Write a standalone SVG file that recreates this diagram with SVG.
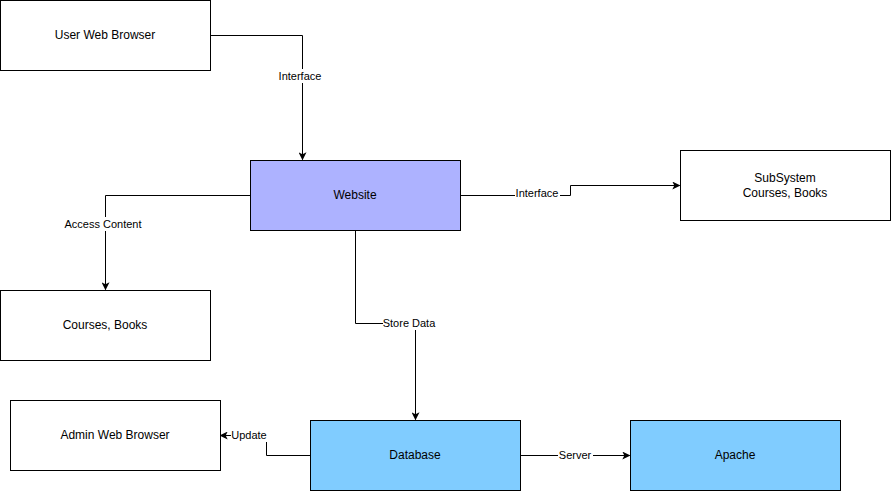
<svg xmlns="http://www.w3.org/2000/svg" width="891" height="491" viewBox="0 0 891 491">
  <style>
    .box { stroke: #000; stroke-width: 1; }
    .plain { fill: #fff; }
    .web { fill: #adb2ff; }
    .data { fill: #80ccff; }
    .node-text { font-family: "Liberation Sans", Arial, sans-serif; font-size: 12px; fill: #000; text-anchor: middle; dominant-baseline: central; }
    .edge { fill: none; stroke: #000; stroke-width: 1; marker-end: url(#arrow); }
    .edge-label { font-family: "Liberation Sans", Arial, sans-serif; font-size: 11px; fill: #000; text-anchor: middle; dominant-baseline: central; }
    .label-bg { fill: #fff; }
  </style>
  <defs>
    <marker id="arrow" viewBox="0 0 10 10" refX="9" refY="5" markerWidth="8" markerHeight="8" markerUnits="userSpaceOnUse" orient="auto">
      <path d="M0,0 L10,5 L0,10 L2.5,5 Z" fill="#000"/>
    </marker>
  </defs>
  <rect width="891" height="491" fill="#fff"/>

  <g id="connectors">
    <path class="edge" d="M210.5,35.5 H302.5 V159.5"/>
    <rect class="label-bg" x="277" y="69" width="47" height="14"/>
    <text class="edge-label" x="300" y="76">Interface</text>

    <path class="edge" d="M460.5,195.5 H570.5 V185.5 H679.5"/>
    <rect class="label-bg" x="515" y="186" width="45" height="14"/>
    <text class="edge-label" x="537" y="193">Interface</text>

    <path class="edge" d="M250.5,195.5 H105.5 V289.5"/>
    <rect class="label-bg" x="63" y="217" width="80" height="14"/>
    <text class="edge-label" x="103" y="224">Access Content</text>

    <path class="edge" d="M355.5,230.5 V323.5 H415.5 V419.5"/>
    <rect class="label-bg" x="383" y="316" width="54" height="14"/>
    <text class="edge-label" x="409" y="323">Store Data</text>

    <path class="edge" d="M310.5,455.5 H266.5 V435.5 H220.5"/>
    <rect class="label-bg" x="231" y="428" width="36" height="14"/>
    <text class="edge-label" x="249" y="435">Update</text>

    <path class="edge" d="M520.5,455.5 H629.5"/>
    <rect class="label-bg" x="558" y="448" width="35" height="14"/>
    <text class="edge-label" x="575" y="455">Server</text>
  </g>

  <g id="user-web-browser">
    <rect class="box plain" x="0.5" y="0.5" width="210" height="70"/>
    <text class="node-text" x="105" y="35">User Web Browser</text>
  </g>

  <g id="website">
    <rect class="box web" x="250.5" y="160.5" width="210" height="70"/>
    <text class="node-text" x="355" y="195">Website</text>
  </g>

  <g id="subsystem">
    <rect class="box plain" x="680.5" y="150.5" width="210" height="70"/>
    <text class="node-text" x="785" y="178">SubSystem</text>
    <text class="node-text" x="785" y="193">Courses, Books</text>
  </g>

  <g id="courses-books">
    <rect class="box plain" x="0.5" y="290.5" width="210" height="70"/>
    <text class="node-text" x="105" y="325">Courses, Books</text>
  </g>

  <g id="admin-web-browser">
    <rect class="box plain" x="10.5" y="400.5" width="210" height="70"/>
    <text class="node-text" x="115" y="435">Admin Web Browser</text>
  </g>

  <g id="database">
    <rect class="box data" x="310.5" y="420.5" width="210" height="70"/>
    <text class="node-text" x="415" y="455">Database</text>
  </g>

  <g id="apache">
    <rect class="box data" x="630.5" y="420.5" width="210" height="70"/>
    <text class="node-text" x="735" y="455">Apache</text>
  </g>
</svg>
